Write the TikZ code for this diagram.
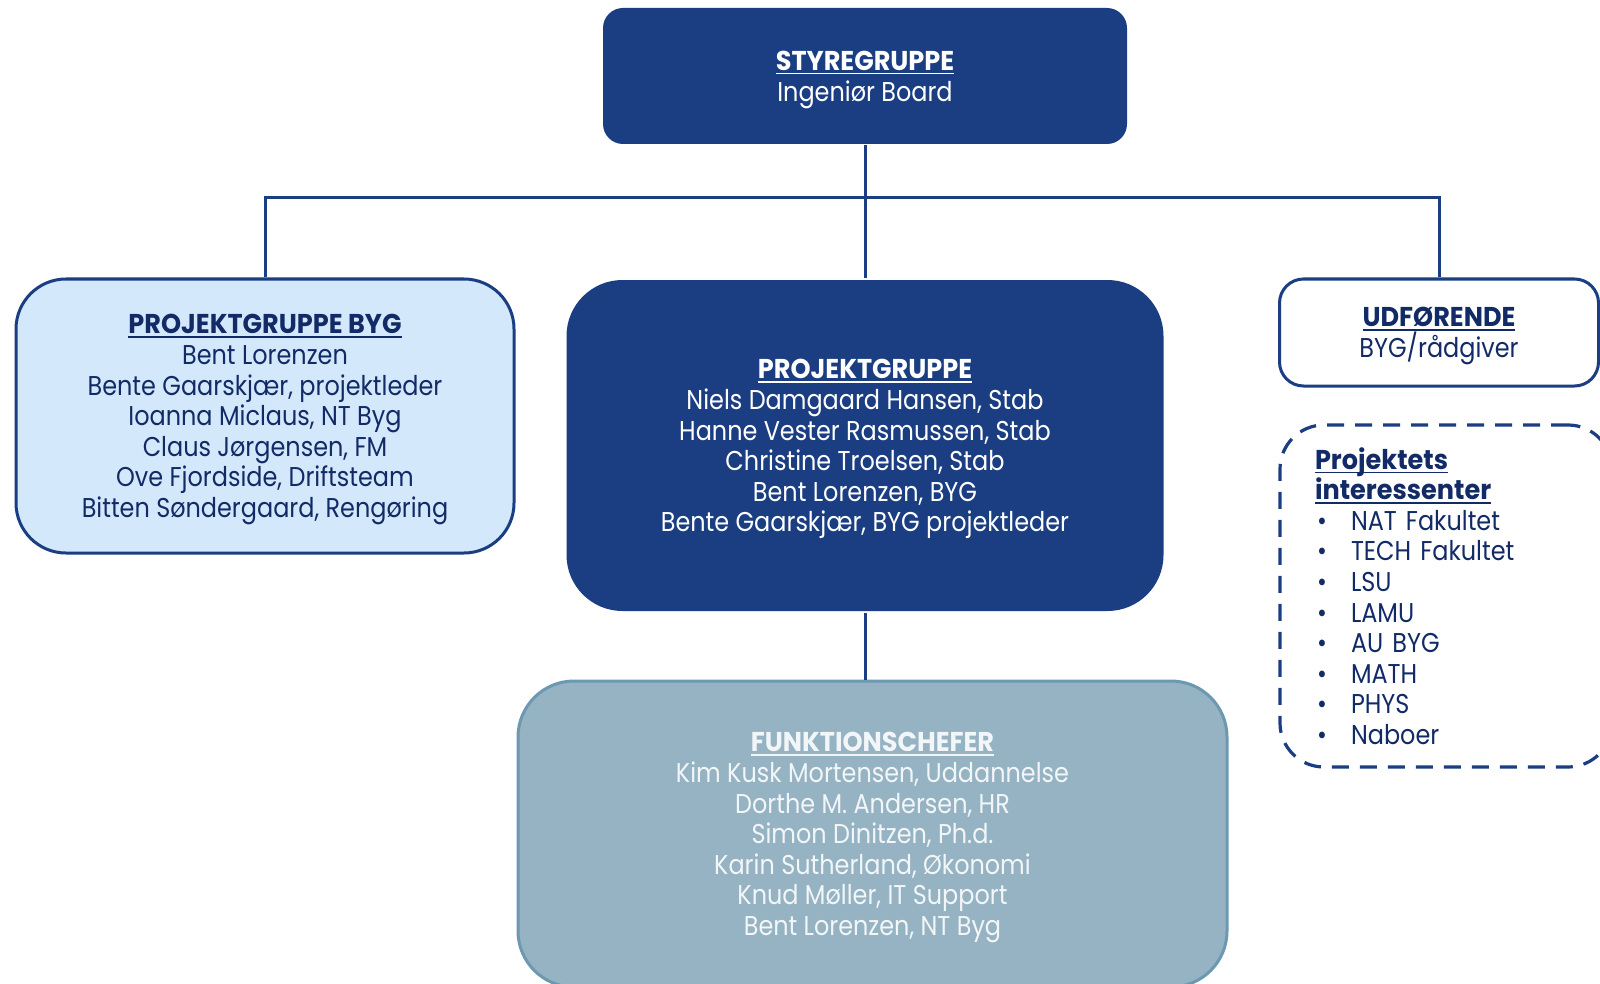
\documentclass[tikz,border=0pt]{standalone}
\usepackage{fontspec}
\setmainfont{Poppins}[FakeStretch=0.88, BoldFeatures={FakeStretch=0.94}]
\definecolor{dblue}{RGB}{27,62,131}
\definecolor{navy}{RGB}{18,43,102}
\definecolor{lblue}{RGB}{212,232,252}
\definecolor{funkfill}{RGB}{149,179,194}
\definecolor{funkline}{RGB}{108,153,177}
\definecolor{funktext}{RGB}{242,246,248}
\newcommand\ulx[1]{\setbox0\hbox{#1}\rlap{\rule[-2pt]{\wd0}{0.75pt}}\box0}
\newcommand\ttl[1]{\rule{0pt}{13.4pt}\textbf{\ulx{#1}}}
\newcommand\itm[1]{\makebox[18pt][l]{\hspace{1pt}\textbullet}#1}
\tikzset{
  txt/.style={font=\fontsize{13.6pt}{15.3pt}\selectfont, align=center},
  box/.style={txt, rectangle, rounded corners=#1, line width=1.5pt, inner sep=0pt},
  darkbox/.style={box=#1, fill=dblue, text=white},
  lightbox/.style={box=#1, fill=lblue, draw=dblue, text=navy},
  whitebox/.style={box=#1, fill=white, draw=dblue, text=navy},
  funkbox/.style={box=#1, fill=funkfill, draw=funkline, text=funktext},
  dashbox/.style={box=#1, draw=dblue, text=navy, dash pattern=on 8.5pt off 5.5pt, line width=1.6pt, align=left},
  conn/.style={draw=dblue, line width=1.5pt},
}
\begin{document}
\begin{tikzpicture}[x=0.5pt,y=-0.5pt]
\useasboundingbox (0,0) rectangle (1600,984);
\clip (0,0) rectangle (1600,984);
\fill[white] (0,0) rectangle (1600,984);
\coordinate (bus) at (865,198);
\node[darkbox=10pt, minimum width=262pt, minimum height=68pt] (styre) at (865,76)
  {\ttl{STYREGRUPPE}\\Ingeniør Board};
\node[lightbox=25pt, minimum width=249pt, minimum height=137pt] (byg) at (265,416)
  {\ttl{PROJEKTGRUPPE BYG}\\Bent Lorenzen\\Bente Gaarskjær, projektleder\\Ioanna Miclaus, NT Byg\\Claus Jørgensen, FM\\Ove Fjordside, Driftsteam\\Bitten Søndergaard, Rengøring};
\node[darkbox=28pt, minimum width=298.5pt, minimum height=165.5pt] (center) at (865,445.5)
  {\ttl{PROJEKTGRUPPE}\\Niels Damgaard Hansen, Stab\\Hanne Vester Rasmussen, Stab\\Christine Troelsen, Stab\\Bent Lorenzen, BYG\\Bente Gaarskjær, BYG projektleder};
\node[whitebox=12pt, minimum width=159.5pt, minimum height=53.5pt] (udf) at (1439,332.5)
  {\ttl{UDFØRENDE}\\BYG/rådgiver};
\node[dashbox=22pt, minimum width=166pt, minimum height=171pt, text width=131pt, inner xsep=17.5pt] (interes) at (1446,596)
  {\textbf{\ulx{Projektets}}\\\textbf{\ulx{interessenter}}\\\itm{NAT Fakultet}\\\itm{TECH Fakultet}\\\itm{LSU}\\\itm{LAMU}\\\itm{AU BYG}\\\itm{MATH}\\\itm{PHYS}\\\itm{Naboer}};
\node[funkbox=28pt, minimum width=354.5pt, minimum height=153pt] (funk) at (872.5,834)
  {\ttl{FUNKTIONSCHEFER}\\Kim Kusk Mortensen, Uddannelse\\Dorthe M. Andersen, HR\\Simon Dinitzen, Ph.d.\\Karin Sutherland, Økonomi\\Knud Møller, IT Support\\Bent Lorenzen, NT Byg};
\draw[conn] (styre.south) -- (center.north);
\draw[conn] (byg.north) |- (bus) -| (udf.north);
\draw[conn] (center.south) -- (center.south |- funk.north);
\end{tikzpicture}
\end{document}
